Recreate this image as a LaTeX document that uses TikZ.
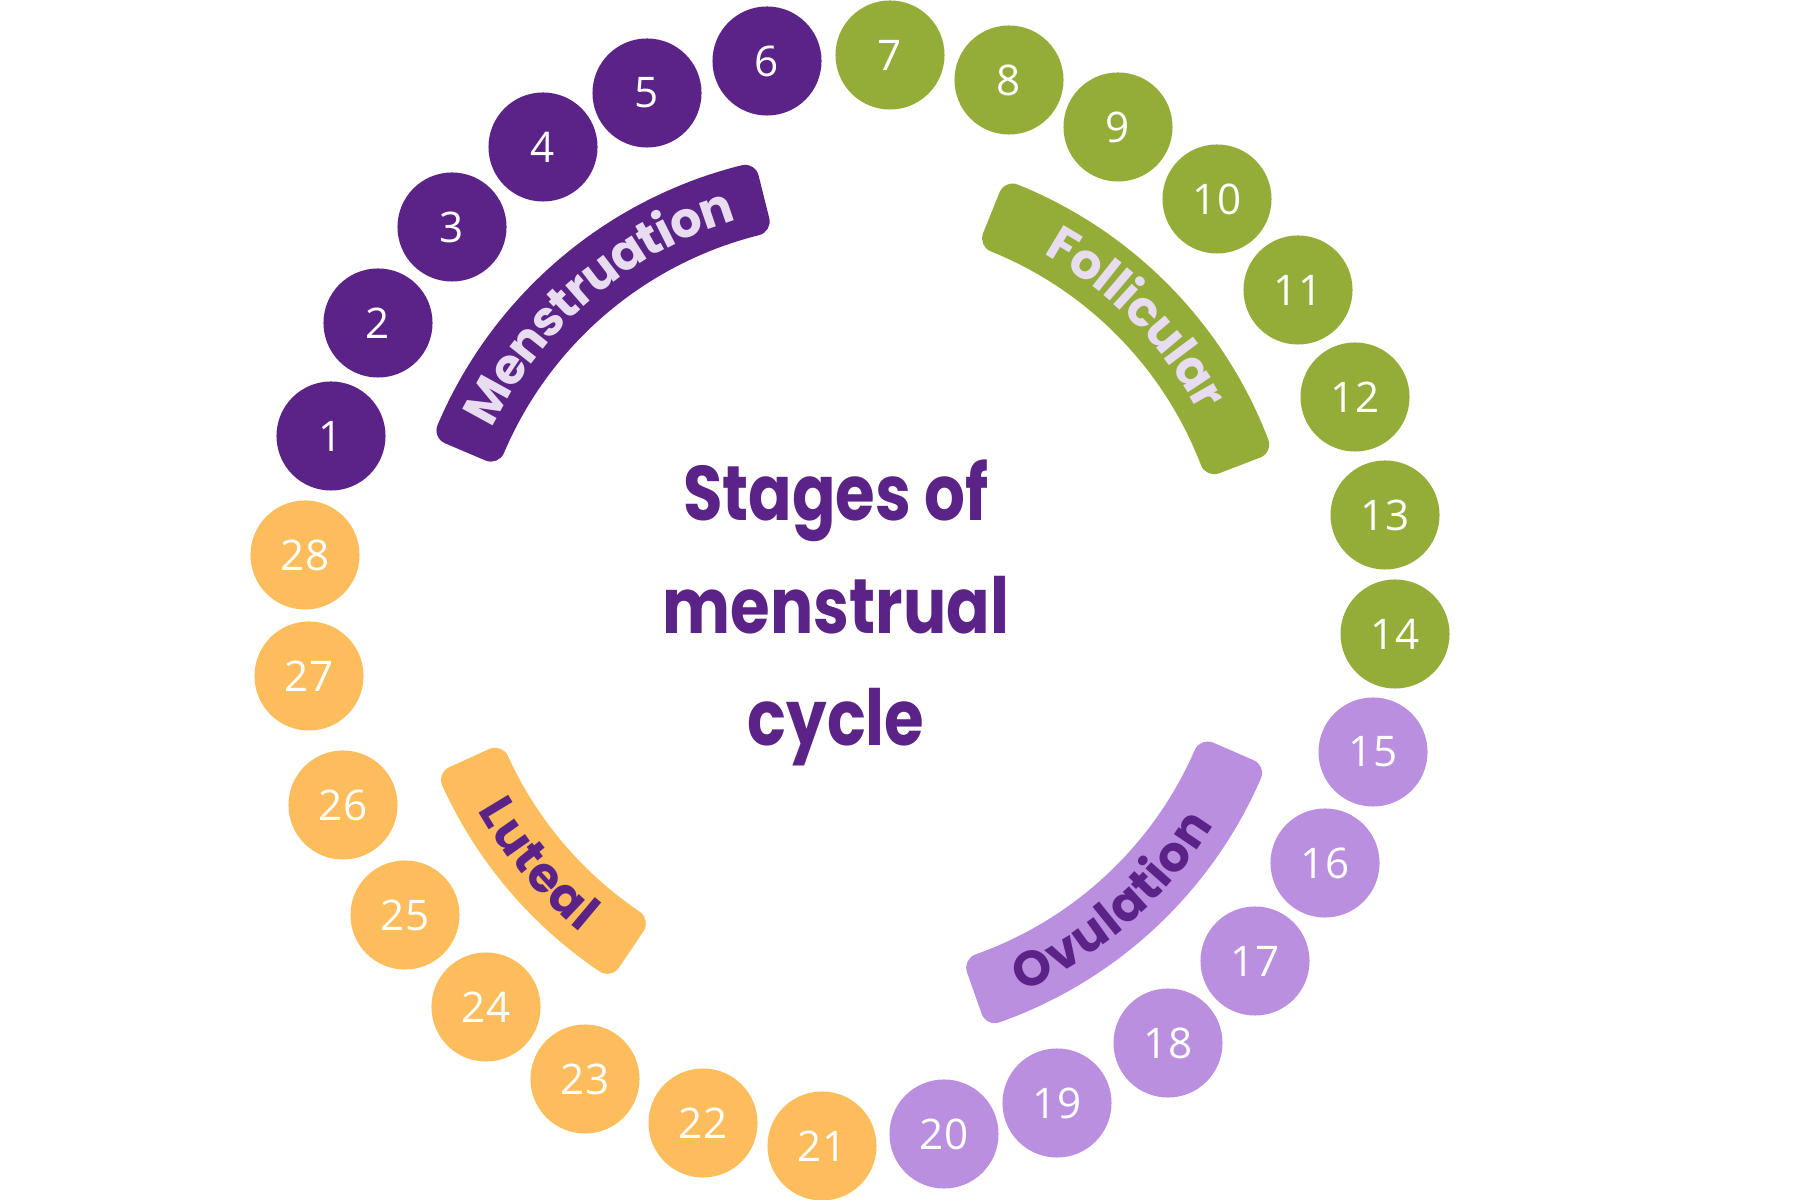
\documentclass[tikz,border=0pt]{standalone}
\usepackage{fontspec}
\usepackage{tikz}
\usetikzlibrary{calc,decorations.text}

\newfontfamily\numfont{Open Sans}
\newfontfamily\labelfont{Poppins}
\newfontfamily\titlefont{Poppins}[FakeStretch=0.83]

\definecolor{mens}{HTML}{5B2387}
\definecolor{foll}{HTML}{93AD38}
\definecolor{ovul}{HTML}{BB8FE0}
\definecolor{lute}{HTML}{FDBD5C}
\definecolor{pale}{HTML}{E8DCF0}

\begin{document}
\begin{tikzpicture}[
        x=0.01cm, y=0.01cm,
        line join=round,
        day/.style={circle, minimum size=1.09cm, inner sep=0pt, text=white,
            font=\numfont\fontsize{12}{14}\selectfont},
        band/.style={line width=2.8mm, line join=round},
        bandtext/.style={decorate, decoration={text along path, text align=center,
            raise=-4.5pt, text={#1}}}
    ]
        \useasboundingbox (0,0) rectangle (1800,1200);

        \coordinate (c) at (850,600);

        \node[font=\titlefont\bfseries\fontsize{22}{32}\selectfont, text=mens,
            align=center, inner sep=0pt] (title) at (836,587)
            {Stages of\\menstrual\\cycle};

        % days
        \foreach \d/\x/\y in {1/331/764, 2/378/877, 3/452/973, 4/543/1053,
                5/647/1107, 6/767/1139}{
            \node[day, fill=mens] (d\d) at (\x,\y) {\d};
        }
        \foreach \d/\x/\y in {7/890/1145, 8/1009/1120, 9/1118/1073, 10/1217/1001,
                11/1298/910, 12/1355/803, 13/1385/685, 14/1395/566}{
            \node[day, fill=foll] (d\d) at (\x,\y) {\d};
        }
        \foreach \d/\x/\y in {15/1373/448, 16/1325/337, 17/1255/239, 18/1168/157,
                19/1057/97, 20/944/66}{
            \node[day, fill=ovul] (d\d) at (\x,\y) {\d};
        }
        \foreach \d/\x/\y in {21/822/54, 22/703/77, 23/585/121, 24/486/193,
                25/405/285, 26/343/395, 27/309/524, 28/305/645}{
            \node[day, fill=lute] (d\d) at (\x,\y) {\d};
        }

        % phases
        \filldraw[band, mens] ($(c)+(157:434)$) arc[start angle=157, end angle=104, radius=434]
            -- ($(c)+(104:390)$) arc[start angle=104, end angle=157, radius=390] -- cycle;
        \path[bandtext={|\labelfont\bfseries\fontsize{14}{16}\selectfont\color{pale}|Menstruation}]
            ($(c)+(159:412)$) arc[start angle=159, end angle=102, radius=412];

        \filldraw[band, foll] ($(c)+(68:434)$) arc[start angle=68, end angle=21, radius=434]
            -- ($(c)+(21:390)$) arc[start angle=21, end angle=68, radius=390] -- cycle;
        \path[bandtext={|\labelfont\bfseries\fontsize{14}{16}\selectfont\color{pale}|Follicular}]
            ($(c)+(70:412)$) arc[start angle=70, end angle=19, radius=412];

        \filldraw[band, ovul] ($(c)+(-70.5:434)$) arc[start angle=-70.5, end angle=-23.5, radius=434]
            -- ($(c)+(-23.5:390)$) arc[start angle=-23.5, end angle=-70.5, radius=390] -- cycle;
        \path[bandtext={|\labelfont\bfseries\fontsize{14}{16}\selectfont\color{mens}|Ovulation}]
            ($(c)+(-72.5:412)$) arc[start angle=-72.5, end angle=-25.5, radius=412];

        \filldraw[band, lute] ($(c)+(204.5:434)$) arc[start angle=204.5, end angle=236, radius=434]
            -- ($(c)+(236:390)$) arc[start angle=236, end angle=204.5, radius=390] -- cycle;
        \path[bandtext={|\labelfont\bfseries\fontsize{14}{16}\selectfont\color{mens}|Luteal}]
            ($(c)+(202.5:412)$) arc[start angle=202.5, end angle=238, radius=412];
\end{tikzpicture}
\end{document}
